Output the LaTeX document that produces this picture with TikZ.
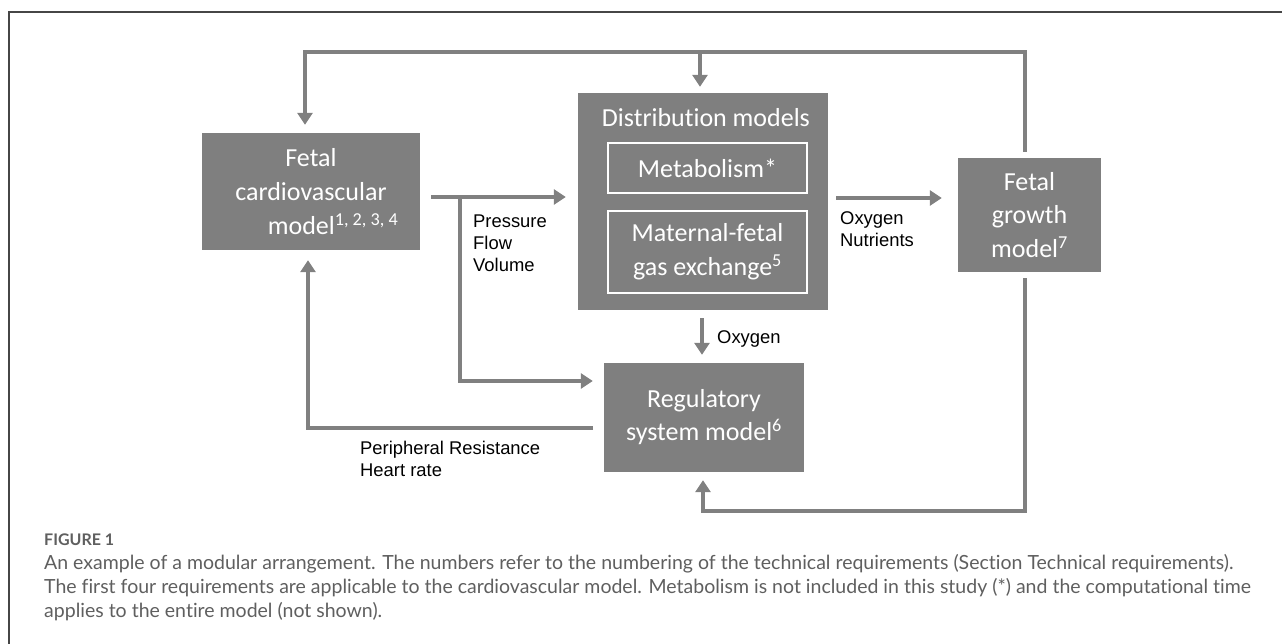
\documentclass[tikz,border=0pt]{standalone}
\usepackage{fontspec}
\setmainfont{Carlito}[Ligatures=NoCommon]
\newfontfamily\arialf{Liberation Sans}
\newfontfamily\capf{Lato}[Ligatures=NoCommon]
\usetikzlibrary{arrows.meta}
\definecolor{boxgray}{RGB}{127,127,127}
\definecolor{linegray}{RGB}{128,128,128}
\definecolor{capgray}{RGB}{95,95,95}
\definecolor{framegray}{RGB}{70,70,70}
\begin{document}
\begin{tikzpicture}[x=1pt,y=-1pt,
  box/.style={fill=boxgray, draw=none, text=white, font=\fontsize{26}{34}\selectfont, align=center, inner sep=0pt},
  inbox/.style={draw=white, line width=1.3pt, text=white, font=\fontsize{26}{34}\selectfont, align=center, inner sep=0pt},
  conn/.style={draw=linegray, line width=4pt},
  arr/.style={-{Triangle[width=15pt,length=12pt]}},
  lbl/.style={font=\arialf\fontsize{18.4}{22}\selectfont, align=left, inner sep=0pt},
  captxt/.style={font=\capf\fontsize{19.5}{24}\selectfont, text=capgray, inner sep=0pt, anchor=base west}]
\useasboundingbox (0,0) rectangle (1282,644);
\draw[framegray, line width=1.2pt] (9,644) -- (9,12) -- (1282,12);

% boxes
\node[box, minimum width=218pt, minimum height=117pt] (cardio) at (311,191.5)
  {Fetal\\cardiovascular\\\hspace*{44pt}model\textsuperscript{1, 2, 3, 4}};
\node[box, minimum width=250pt, minimum height=217pt] (dist) at (703,201.5) {};
\node[text=white, font=\fontsize{26}{34}\selectfont, inner sep=0pt] (distT) at (706,118) {Distribution models};
\node[inbox, minimum width=199pt, minimum height=50pt] (metab) at (707.5,168) {Metabolism*};
\node[inbox, minimum width=199pt, minimum height=82pt] (matern) at (707.5,252) {Maternal-fetal\\gas exchange\textsuperscript{5}};
\node[box, minimum width=143pt, minimum height=114pt, font=\fontsize{26}{33.5}\selectfont] (growth) at (1029.5,215) {Fetal\\growth\\model\textsuperscript{7}};
\node[box, minimum width=200pt, minimum height=109pt, font=\fontsize{26}{33}\selectfont] (reg) at (704,417.5) {Regulatory\\system model\textsuperscript{6}};

% routing coordinates
\coordinate (topL) at (305,52);
\coordinate (topM) at (700,52);
\coordinate (topR) at (1025,52);
\coordinate (o1) at (431,197);
\coordinate (br) at (460,197);
\coordinate (brB) at (460,381);
\coordinate (o2) at (836,198);
\coordinate (ox) at (702,318);
\coordinate (botR) at (1025,511);
\coordinate (botL) at (703,511);
\coordinate (fbR) at (593,428);
\coordinate (fbL) at (308,428);

% connectors
\draw[conn, arr, shorten <=6pt, shorten >=8pt] (growth.north -| topR) -- (topR) -- (topL) -- (topL |- cardio.north);
\draw[conn, arr, shorten >=6pt] (topM) -- (topM |- dist.north);
\draw[conn, arr, shorten >=12pt] (o1) -- (o1 -| dist.west);
\draw[conn, arr, shorten >=11pt] (br) -- (brB) -- (brB -| reg.west);
\draw[conn, arr, shorten >=16pt] (o2) -- (o2 -| growth.west);
\draw[conn, arr, shorten >=8pt] (ox) -- (ox |- reg.north);
\draw[conn, arr, shorten <=6pt, shorten >=8pt] (growth.south -| botR) -- (botR) -- (botL) -- (botL |- reg.south);
\draw[conn, arr, shorten >=10pt] (fbR) -- (fbL) -- (fbL |- cardio.south);

% labels
\node[lbl, anchor=north west] (lPFV) at (473,215) {Pressure\\Flow\\Volume};
\node[lbl, anchor=north west] (lON) at (840,211) {Oxygen\\Nutrients};
\node[lbl, anchor=base west] (lO) at (717,343.6) {Oxygen};
\node[lbl, anchor=north west] (lPR) at (360,441) {Peripheral Resistance\\Heart rate};

% caption
\node[captxt, font=\capf\bfseries\fontsize{16}{18}\selectfont] (fig) at (44,545.5) {FIGURE 1};
\node[captxt] (c1) at (44,569.5) {An example of a modular arrangement. The numbers refer to the numbering of the technical requirements (Section Technical requirements).};
\node[captxt] (c2) at (44,593.5) {The first four requirements are applicable to the cardiovascular model. Metabolism is not included in this study (*) and the computational time};
\node[captxt] (c3) at (44,617.5) {applies to the entire model (not shown).};
\end{tikzpicture}
\end{document}
